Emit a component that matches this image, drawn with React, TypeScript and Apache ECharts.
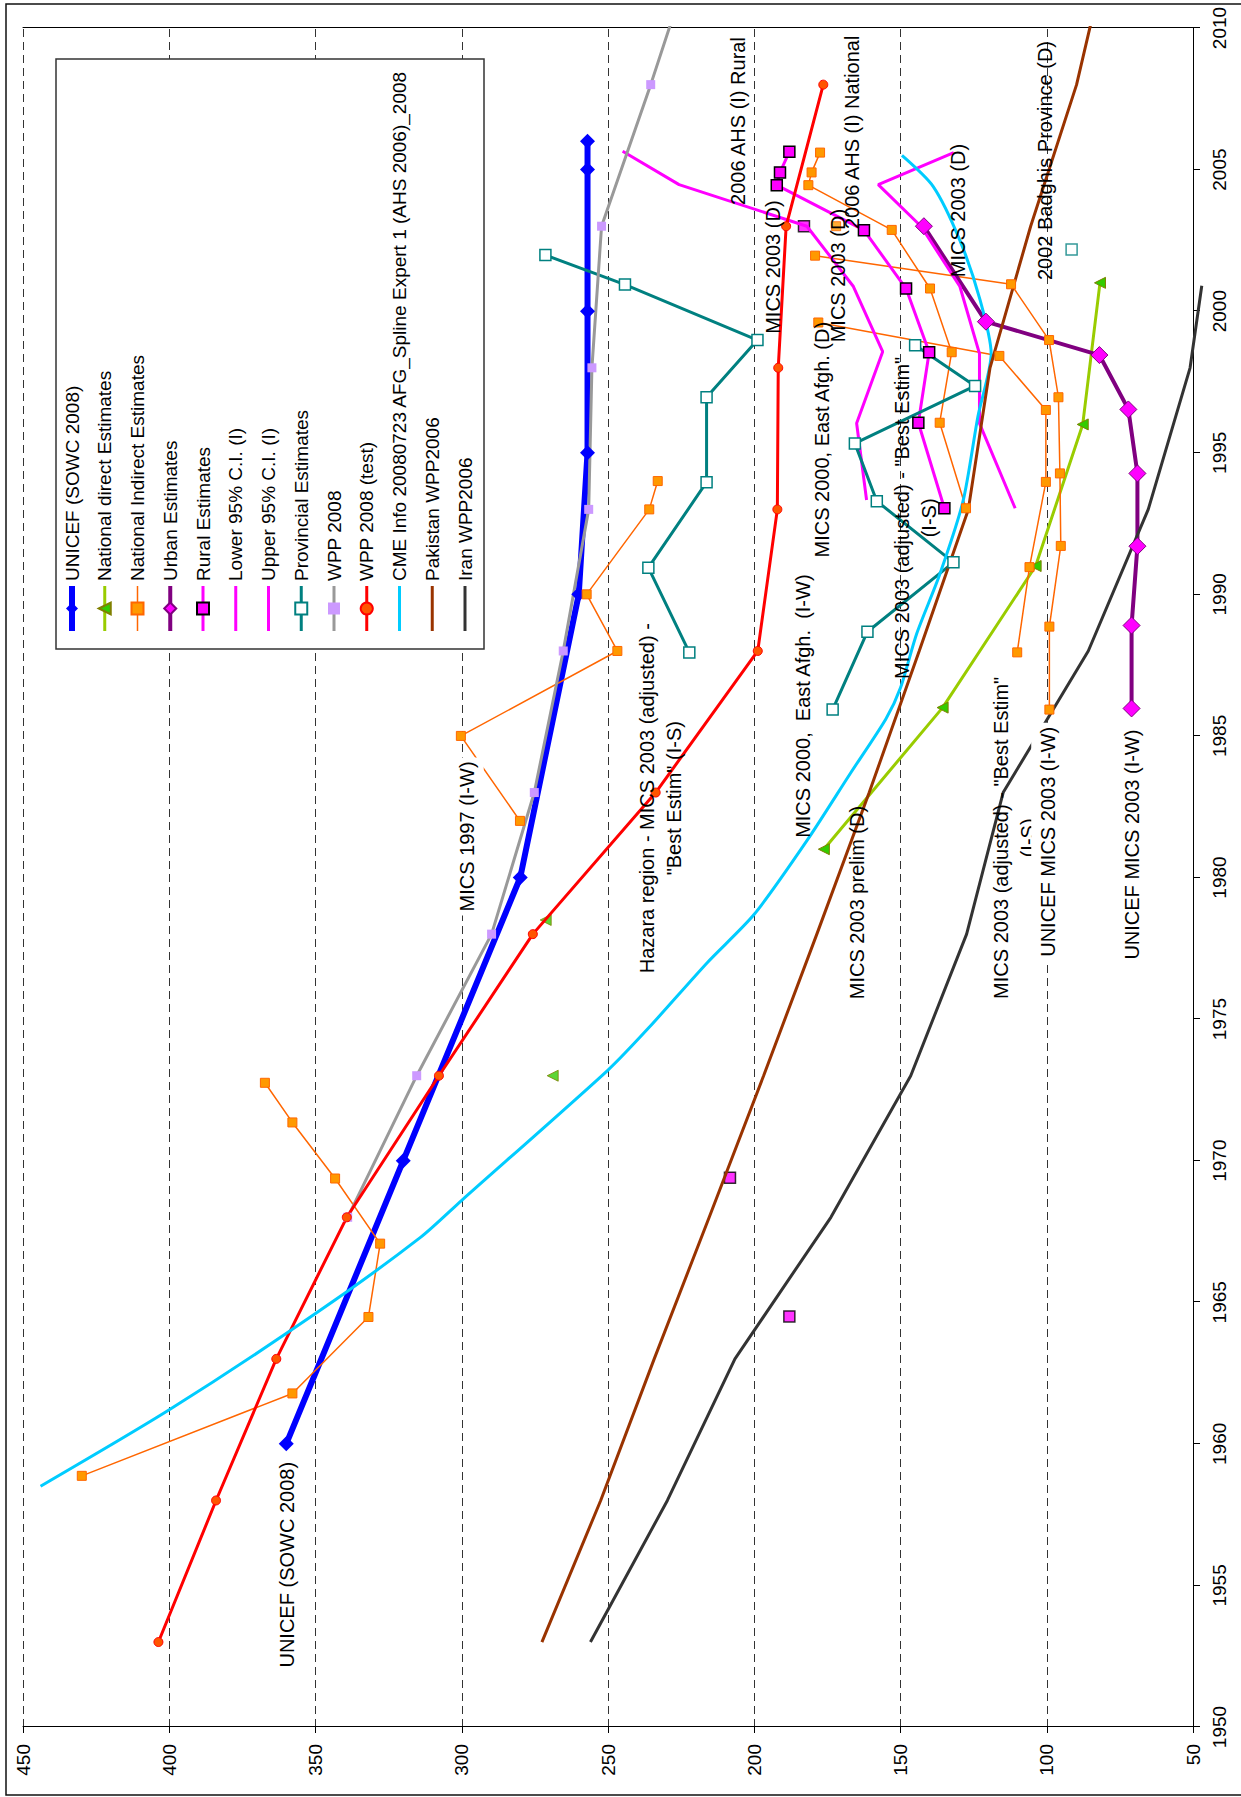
import React, { useEffect, useRef } from "react";
import * as echarts from "echarts";

type Pt = [number, number];

// Axis ranges (years across, under-five mortality up)
const YEAR_MIN = 1950;
const YEAR_MAX = 2010;
const YEAR_STEP = 5;
const RATE_MIN = 50;
const RATE_MAX = 450;
const RATE_STEP = 50;

const LEGEND_NAMES = [
  "UNICEF (SOWC 2008)",
  "National direct Estimates",
  "National Indirect Estimates",
  "Urban Estimates",
  "Rural Estimates",
  "Lower 95% C.I. (I)",
  "Upper 95% C.I. (I)",
  "Provincial Estimates",
  "WPP 2008",
  "WPP 2008 (test)",
  "CME Info 20080723 AFG_Spline Expert 1 (AHS 2006)_2008",
  "Pakistan WPP2006",
  "Iran WPP2006",
];

// Entries whose legend key is a plain line (no marker)
const LINE_ONLY = new Set([
  "Lower 95% C.I. (I)",
  "Upper 95% C.I. (I)",
  "CME Info 20080723 AFG_Spline Expert 1 (AHS 2006)_2008",
  "Pakistan WPP2006",
  "Iran WPP2006",
]);

// ---- series values: [year, deaths per 1000] ----
const unicef: Pt[] = [
  [1960, 360], [1970, 320], [1980, 280], [1990, 260], [1995, 257], [2000, 257], [2005, 257], [2006, 257],
];

const directSurvey: Pt[] = [
  [1981.0, 176.2], [1986.0, 135.6], [1991.0, 103.8], [1996.0, 87.7], [2001.0, 81.8],
];
const directSingles: Pt[] = [[1973.0, 268.9], [1978.5, 271.3]];

const indirectEarly: Pt[] = [
  [1972.75, 367.3], [1971.35, 357.9], [1969.37, 343.3], [1967.07, 327.9], [1964.48, 331.9], [1961.78, 357.9], [1958.87, 429.9],
];
const indirectMics1997: Pt[] = [
  [1994.0, 233.0], [1993.0, 235.9], [1990.0, 257.3], [1988.0, 246.8], [1985.0, 300.3], [1982.0, 280.1],
];
const indirectAhsNational: Pt[] = [
  [2005.6, 177.5], [2004.9, 180.4], [2004.45, 181.5], [2002.87, 153.0], [2000.8, 139.9], [1998.55, 132.5], [1996.06, 136.6], [1993.04, 127.6],
];
const indirectMicsA: Pt[] = [
  [2001.96, 179.2], [2000.95, 112.2], [1998.98, 99.2], [1996.96, 96.0], [1994.27, 95.5], [1991.71, 95.2], [1988.86, 99.1], [1985.93, 99.1],
];
const indirectMicsB: Pt[] = [
  [1999.6, 178.1], [1998.42, 116.2], [1996.51, 100.3], [1993.97, 100.3], [1990.96, 105.9], [1987.95, 110.1],
];
const indirectSingles: Pt[] = [[2003.0, 172.0]];

const urban: Pt[] = [
  [1985.97, 71.0], [1988.9, 71.0], [1991.7, 69.0], [1994.27, 69.0], [1996.53, 72.1], [1998.45, 82.0], [1999.63, 120.8], [2003.0, 142.0],
];

const rural: Pt[] = [
  [2005.63, 188.0], [2004.9, 191.2], [2004.45, 192.3], [2002.86, 162.5], [2000.8, 148.1], [1998.55, 140.2], [1996.06, 143.9], [1993.04, 135.0],
];
const ruralSingles: Pt[] = [[2003.0, 183.0], [1969.4, 208.3], [1964.5, 188.0]];

const lowerCI: Pt[] = [
  [1993.04, 110.8], [1996.04, 123.0], [1998.5, 123.0], [2000.87, 129.7], [2003.0, 143.0], [2004.47, 157.6], [2005.6, 131.8],
];
const upperCI: Pt[] = [
  [1993.33, 161.6], [1996.04, 165.0], [1998.57, 156.1], [2000.87, 166.1], [2003.0, 182.0], [2004.47, 225.7], [2005.65, 245.0],
];

const provincialCentral: Pt[] = [
  [1987.95, 222.2], [1990.94, 236.2], [1993.96, 216.3], [1996.96, 216.3], [1998.98, 198.9], [2000.94, 244.2], [2001.98, 271.4],
];
const provincialEast: Pt[] = [
  [1985.93, 173.2], [1988.68, 161.3], [1991.13, 131.9], [1993.29, 158.1], [1995.33, 165.6], [1997.36, 124.5], [1998.8, 145.0],
];
const provincialSingles: Pt[] = [[2002.18, 91.5]];

const wpp2008: Pt[] = [
  [1968, 339.0], [1973, 315.4], [1978, 289.8], [1983, 275.2], [1988, 265.3], [1993, 256.6], [1998, 255.5], [2003, 252.2], [2008, 235.4],
];
const wpp2008Tail: Pt = [2010.33, 228.0];

const wppTest: Pt[] = [
  [1953, 403.7], [1958, 384.0], [1963, 363.4], [1968, 339.3], [1973, 307.8], [1978, 275.7],
  [1983, 233.7], [1988, 198.8], [1993, 192.1], [1998, 191.8], [2003, 189.1], [2008, 176.4],
];

const cmeSpline: Pt[] = [
  [1958.5, 444.0], [1961.2, 400.0], [1964.6, 350.0], [1967.3, 314.0], [1968.6, 300.0], [1973.2, 250.0],
  [1974.7, 236.0], [1977.0, 216.0], [1978.7, 200.0], [1981.3, 182.0], [1983.7, 167.0], [1985.6, 155.0],
  [1986.7, 150.0], [1988.6, 144.5], [1990.7, 136.6], [1993.3, 128.6], [1996.3, 123.5], [1998.5, 119.0],
  [2000.4, 122.8], [2002.5, 129.7], [2004.4, 138.8], [2005.5, 149.5],
];

const pakistan: Pt[] = [
  [1953, 272.6], [1958, 252.5], [1963, 234.2], [1968, 215.4], [1973, 196.8], [1978, 178.6], [1983, 160.7],
  [1988, 143.6], [1993, 126.8], [1998, 119.4], [2003, 105.5], [2008, 89.8], [2010.3, 84.6],
];

const iran: Pt[] = [
  [1953, 256.0], [1958, 229.7], [1963, 206.6], [1968, 173.8], [1973, 146.5], [1978, 127.4],
  [1983, 114.9], [1988, 85.8], [1993, 65.3], [1998, 51.0], [2000.9, 47.0],
];

// Survey annotations, anchored in data coordinates
type Note = { text: string; at: Pt; centred?: boolean; boxed?: boolean };
const notes: Note[] = [
  { text: "UNICEF (SOWC 2008)", at: [1952.1, 359.7] },
  { text: "MICS 1997 (I-W)", at: [1978.8, 298.3], boxed: true },
  { text: 'Hazara region - MICS 2003 (adjusted) -\n"Best Estim" (I-S)', at: [1982.8, 232.2], centred: true },
  { text: "MICS 2000,  East Afgh.  (I-W)", at: [1981.4, 183.2] },
  { text: "MICS 2000, East Afgh. (D)", at: [1991.3, 176.9] },
  { text: "MICS 2003 (D)", at: [1999.2, 193.6] },
  { text: "2006 AHS (I) Rural", at: [2003.75, 205.4] },
  { text: "MICS 2003 (D)", at: [1998.9, 171.3] },
  { text: "2006 AHS (I) National", at: [2002.9, 166.7] },
  { text: 'MICS 2003 (adjusted) - "Best Estim"\n(I-S)', at: [1992.7, 144.9], centred: true },
  { text: "MICS 2003 (D)", at: [2001.2, 130.2] },
  { text: "2002 Badghis Province (D)", at: [2001.1, 100.6] },
  { text: "MICS 2003 prelim (D)", at: [1975.7, 165.0] },
  { text: 'MICS 2003 (adjusted) - "Best Estim"\n(I-S)', at: [1981.4, 110.9], centred: true },
  { text: "UNICEF MICS 2003 (I-W)", at: [1977.2, 99.5], boxed: true },
  { text: "UNICEF MICS 2003 (I-W)", at: [1977.1, 71.0], boxed: true },
];

const FONT = '"Liberation Sans", Arial, Helvetica, sans-serif';
const W = 1797; // drawing is laid out landscape, then turned a quarter to portrait
const H = 1241;

type Mark = { symbol: string; size: number; fill: string; border?: string; borderWidth?: number };

const M = {
  blueDiamond: { symbol: "diamond", size: 15, fill: "#0000ff" } as Mark,
  triangle: { symbol: "triangle", size: 11, fill: "#33cc00", border: "#808000", borderWidth: 1 } as Mark,
  orangeSq: { symbol: "rect", size: 9, fill: "#ff9900", border: "#ff6600", borderWidth: 1 } as Mark,
  urbanDiamond: { symbol: "diamond", size: 17, fill: "#ff00ff", border: "#800080", borderWidth: 1 } as Mark,
  ruralSq: { symbol: "rect", size: 11, fill: "#ff00ff", border: "#000000", borderWidth: 1.5 } as Mark,
  provSq: { symbol: "rect", size: 11, fill: "#ffffff", border: "#008080", borderWidth: 1.5 } as Mark,
  lilacSq: { symbol: "rect", size: 9, fill: "#cc99ff" } as Mark,
  redDot: { symbol: "circle", size: 9, fill: "#ff5500", border: "#ff0000", borderWidth: 1 } as Mark,
};

function itemStyleOf(m: Mark) {
  return { color: m.fill, borderColor: m.border ?? m.fill, borderWidth: m.borderWidth ?? 0 };
}

function line(name: string, data: any[], color: string, width: number, mark?: Mark, extra: any = {}) {
  return {
    type: "line",
    name,
    data,
    silent: true,
    lineStyle: { color, width },
    itemStyle: mark ? itemStyleOf(mark) : { color },
    symbol: mark ? mark.symbol : "none",
    symbolSize: mark ? mark.size : 0,
    showSymbol: !!mark,
    showAllSymbol: true,
    emphasis: { disabled: true },
    ...extra,
  };
}

function dots(name: string, data: Pt[], mark: Mark) {
  return {
    type: "scatter",
    name,
    data,
    silent: true,
    symbol: mark.symbol,
    symbolSize: mark.size,
    itemStyle: itemStyleOf(mark),
    emphasis: { disabled: true },
  };
}

function buildOption() {
  const [U, ND, NI, UR, RU, LO, UP, PR, WP, WT, CME, PK, IR] = LEGEND_NAMES;
  const axisText = { fontSize: 19, color: "#000", fontFamily: FONT };
  return {
    animation: false,
    backgroundColor: "#ffffff",
    grid: { left: 70, right: 28, top: 23, bottom: 48, containLabel: false },
    xAxis: {
      type: "value",
      min: YEAR_MIN,
      max: YEAR_MAX,
      interval: YEAR_STEP,
      axisLine: { show: true, onZero: false, lineStyle: { color: "#000", width: 1 } },
      axisTick: { show: true, length: 7, lineStyle: { color: "#000" } },
      axisLabel: {
        ...axisText,
        margin: 17,
        showMinLabel: true,
        showMaxLabel: true,
        formatter: (v: number) => String(v),
      },
      splitLine: { show: false },
    },
    yAxis: [
      {
        type: "value",
        min: RATE_MIN,
        max: RATE_MAX,
        interval: RATE_STEP,
        axisLine: { show: true, onZero: false, lineStyle: { color: "#000", width: 1 } },
        axisTick: { show: true, length: 6, lineStyle: { color: "#000" } },
        axisLabel: { ...axisText, margin: 17, formatter: (v: number) => String(v) },
        splitLine: { show: true, lineStyle: { color: "#333", width: 1, type: [8, 5] } },
      },
      {
        type: "value",
        position: "right",
        min: RATE_MIN,
        max: RATE_MAX,
        interval: RATE_STEP,
        axisLine: { show: true, onZero: false, lineStyle: { color: "#000", width: 1 } },
        axisTick: { show: false },
        axisLabel: { show: false },
        splitLine: { show: false },
      },
    ],
    legend: {
      orient: "vertical",
      left: 1163,
      top: 62,
      padding: 0,
      itemWidth: 45,
      itemHeight: 15,
      itemGap: 12.75,
      selectedMode: false,
      lineStyle: { width: "inherit" },
      data: LEGEND_NAMES.map((name) =>
        LINE_ONLY.has(name) ? { name, itemStyle: { opacity: 0 } } : { name }
      ),
      textStyle: { fontSize: 19, lineHeight: 20, color: "#000", fontFamily: FONT },
    },
    series: [
      line(U, unicef, "#0000ff", 6, M.blueDiamond),
      line(ND, directSurvey, "#99cc00", 3, M.triangle),
      dots(ND, directSingles, M.triangle),
      line(NI, indirectEarly, "#ff6600", 1.5, M.orangeSq),
      line(NI, indirectMics1997, "#ff6600", 1.5, M.orangeSq),
      line(NI, indirectAhsNational, "#ff6600", 1.5, M.orangeSq),
      line(NI, indirectMicsA, "#ff6600", 1.5, M.orangeSq),
      line(NI, indirectMicsB, "#ff6600", 1.5, M.orangeSq),
      dots(NI, indirectSingles, M.orangeSq),
      line(UR, urban, "#800080", 4, M.urbanDiamond),
      line(RU, rural, "#ff00ff", 3, M.ruralSq),
      dots(RU, ruralSingles, M.ruralSq),
      line(LO, lowerCI, "#ff00ff", 3),
      line(UP, upperCI, "#ff00ff", 3),
      line(PR, provincialCentral, "#008080", 3, M.provSq),
      line(PR, provincialEast, "#008080", 3, M.provSq),
      dots(PR, provincialSingles, M.provSq),
      line(WP, [...wpp2008, { value: wpp2008Tail, symbol: "none" }], "#999999", 3, M.lilacSq, { clip: false }),
      line(WT, wppTest, "#ff0000", 3, M.redDot),
      line(CME, cmeSpline, "#00ccff", 3, undefined, { smooth: 0.25 }),
      line(PK, pakistan, "#993300", 3, undefined, { clip: false }),
      line(IR, iran, "#333333", 3, undefined, { clip: false }),
    ],
  };
}

function baseGraphics() {
  return [
    {
      type: "rect",
      id: "outer-frame",
      silent: true,
      z: 0,
      shape: { x: 2, y: 6, width: 1791, height: 1262 },
      style: { fill: "none", stroke: "#111", lineWidth: 1.5 },
    },
    {
      type: "rect",
      id: "legend-box",
      silent: true,
      z: 1,
      shape: { x: 1148, y: 56, width: 590, height: 428 },
      style: { fill: "#ffffff", stroke: "#333", lineWidth: 1.5 },
    },
  ];
}

export default function App() {
  const ref = useRef<HTMLDivElement>(null);

  useEffect(() => {
    const el = ref.current;
    if (!el) return;
    const chart = echarts.init(el, undefined, { renderer: "svg" });
    chart.setOption({ ...buildOption(), graphic: { elements: baseGraphics() } });

    const texts = notes.map((n, i) => {
      const p = chart.convertToPixel({ xAxisIndex: 0, yAxisIndex: 0 }, n.at) as number[];
      const style: any = {
        text: n.text,
        font: `20px ${FONT}`,
        fill: "#000",
        align: n.centred ? "center" : "left",
        verticalAlign: "middle",
        lineHeight: 27,
      };
      if (n.boxed) {
        style.backgroundColor = "#ffffff";
        style.padding = [5, 4];
        style.lineHeight = 24;
      }
      return {
        type: "text",
        id: `note-${i}`,
        silent: true,
        z: 10 + i,
        x: n.boxed && !n.centred ? p[0] - 4 : p[0],
        y: p[1],
        style,
      };
    });
    chart.setOption({ graphic: { elements: [...baseGraphics(), ...texts] } });

    return () => chart.dispose();
  }, []);

  return (
    <div
      style={{
        position: "absolute",
        left: 0,
        top: 0,
        width: H,
        height: W,
        overflow: "hidden",
        background: "#ffffff",
      }}
    >
      <div
        ref={ref}
        style={{
          position: "absolute",
          left: 0,
          top: 0,
          width: W,
          height: H,
          transformOrigin: "0 0",
          transform: `translate(0px, ${W}px) rotate(-90deg)`,
        }}
      />
    </div>
  );
}
